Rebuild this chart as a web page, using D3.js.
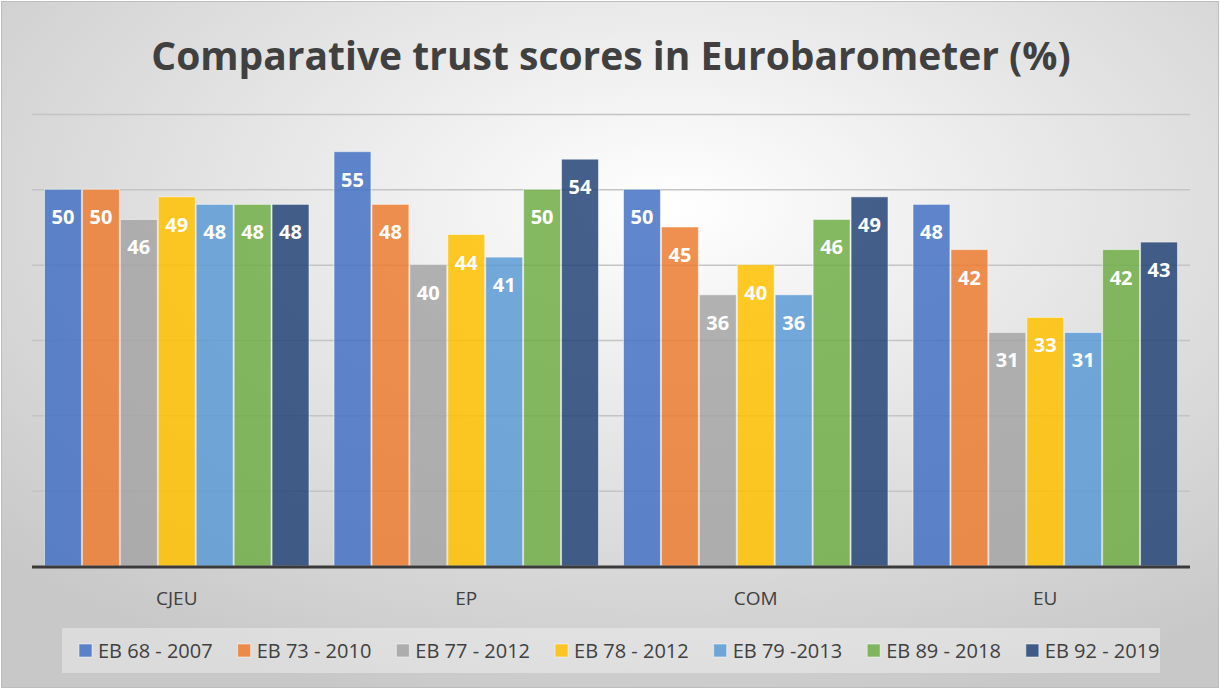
<!DOCTYPE html>
<html>
<head>
<meta charset="utf-8">
<style>
body { margin: 0; background: #fff; }
text { font-family: "Open Sans", "Noto Sans", sans-serif; }
.grid line { stroke: #c4c4c4; stroke-width: 1.5; }
.grid path { display: none; }
</style>
</head>
<body>
<svg width="1220" height="689"></svg>
<script src="https://d3js.org/d3.v7.min.js"></script>
<script>
// chart values
var institutions = ["CJEU", "EP", "COM", "EU"];
var waves = ["EB 68 - 2007", "EB 73 - 2010", "EB 77 - 2012", "EB 78 - 2012", "EB 79 -2013", "EB 89 - 2018", "EB 92 - 2019"];
var cjeu = [50, 50, 46, 49, 48, 48, 48];
var ep = [55, 48, 40, 44, 41, 50, 54];
var com = [50, 45, 36, 40, 36, 46, 49];
var eu = [48, 42, 31, 33, 31, 42, 43];
var yTicks = [10, 20, 30, 40, 50, 60];

var scores = [cjeu, ep, com, eu];
var colors = ["#4472C4", "#ED7D31", "#A5A5A5", "#FFC000", "#5B9BD5", "#70AD47", "#264478"];

var svg = d3.select("svg"),
    width = +svg.attr("width"),
    height = +svg.attr("height");

// background: soft radial grey
var defs = svg.append("defs");
var bg = defs.append("radialGradient").attr("id", "bg")
    .attr("cx", "55%").attr("cy", "30%").attr("r", "75%");
bg.append("stop").attr("offset", "0%").attr("stop-color", "#ffffff");
bg.append("stop").attr("offset", "100%").attr("stop-color", "#c8c8c8");

svg.append("rect")
    .attr("x", 1.5).attr("y", 1.5)
    .attr("width", width - 3).attr("height", height - 3)
    .attr("fill", "url(#bg)")
    .attr("stroke", "#bdbdbd");

var margin = {left: 32, right: 30, top: 114, bottom: 123};
var plotW = width - margin.left - margin.right,
    plotH = height - margin.top - margin.bottom;

var x0 = d3.scaleBand().domain(institutions)
    .range([margin.left, margin.left + plotW])
    .paddingInner(0.083).paddingOuter(0.0415);
var x1 = d3.scaleBand().domain(waves).range([0, x0.bandwidth()]).padding(0);
var y = d3.scaleLinear().domain([0, 60]).range([margin.top + plotH, margin.top]);

// title
svg.append("text")
    .attr("x", 611).attr("y", 70)
    .attr("text-anchor", "middle")
    .attr("font-size", 39).attr("font-weight", "bold")
    .attr("fill", "#404040")
    .text("Comparative trust scores in Eurobarometer (%)");

// gridlines
svg.append("g").attr("class", "grid")
    .attr("transform", "translate(" + margin.left + ",0)")
    .call(d3.axisLeft(y).tickValues(yTicks).tickSize(-plotW).tickFormat(""));

// bars
var groups = svg.append("g").selectAll("g")
    .data(scores)
    .enter().append("g")
      .attr("transform", function(d, i) { return "translate(" + x0(institutions[i]) + ",0)"; });

groups.selectAll("rect")
    .data(function(d) { return d; })
    .enter().append("rect")
      .attr("x", function(d, i) { return x1(waves[i]) + 0.5; })
      .attr("y", function(d) { return y(d); })
      .attr("width", x1.bandwidth() - 1)
      .attr("height", function(d) { return y(0) - y(d); })
      .attr("fill", function(d, i) { return colors[i]; })
      .attr("fill-opacity", 0.85)
      .attr("stroke", "#ffffff")
      .attr("stroke-opacity", 0.5)
      .attr("stroke-width", 1);

groups.selectAll("text")
    .data(function(d) { return d; })
    .enter().append("text")
      .attr("x", function(d, i) { return x1(waves[i]) + x1.bandwidth() / 2; })
      .attr("y", function(d) { return y(d) + 35; })
      .attr("text-anchor", "middle")
      .attr("font-size", 20).attr("font-weight", "bold")
      .attr("fill", "#ffffff")
      .text(function(d) { return d; });

// baseline
svg.append("line")
    .attr("x1", margin.left).attr("x2", margin.left + plotW)
    .attr("y1", y(0) + 1).attr("y2", y(0) + 1)
    .attr("stroke", "#3a3a3a").attr("stroke-width", 3);

// category labels
svg.append("g").selectAll("text")
    .data(institutions)
    .enter().append("text")
      .attr("x", function(d) { return x0(d) + x0.bandwidth() / 2; })
      .attr("y", 605)
      .attr("text-anchor", "middle")
      .attr("font-size", 19)
      .attr("fill", "#404040")
      .text(function(d) { return d; });

// legend
svg.append("rect")
    .attr("x", 62).attr("y", 628).attr("width", 1098).attr("height", 45)
    .attr("fill", "#ffffff").attr("fill-opacity", 0.35);

var legend = svg.append("g");
var lx = 79;
waves.forEach(function(w, i) {
  var item = legend.append("g").attr("transform", "translate(" + lx + ",651)");
  item.append("rect")
      .attr("x", 0).attr("y", -7).attr("width", 13).attr("height", 13)
      .attr("fill", colors[i]).attr("fill-opacity", 0.85)
      .attr("stroke", "#ffffff").attr("stroke-opacity", 0.5);
  var t = item.append("text")
      .attr("x", 19).attr("y", 7)
      .attr("font-size", 20)
      .attr("fill", "#404040")
      .text(w);
  lx += 19 + t.node().getComputedTextLength() + 25;
});
</script>
</body>
</html>
